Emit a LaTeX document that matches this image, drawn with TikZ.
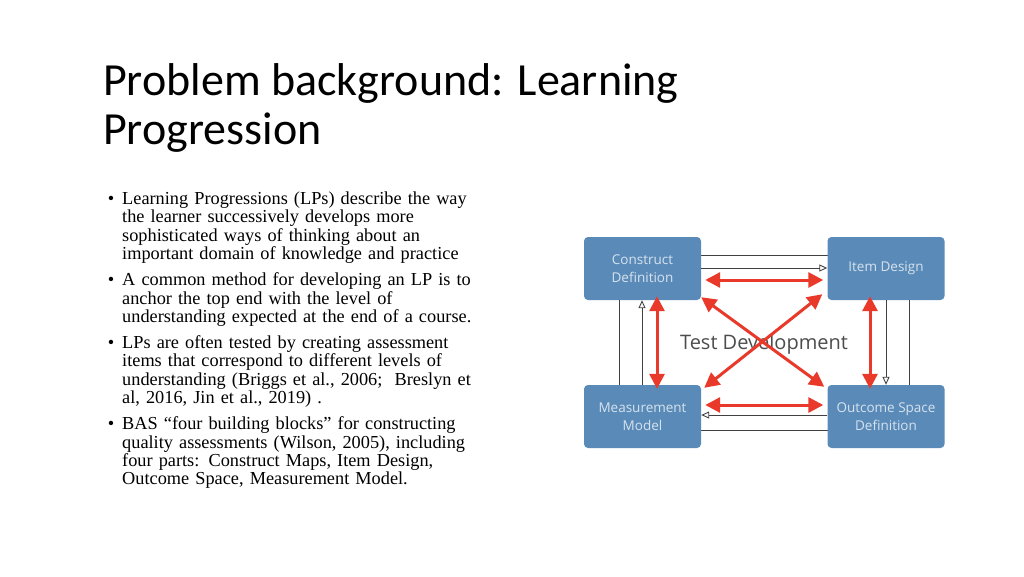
\documentclass[tikz,border=0pt]{standalone}
\usepackage{fontspec}
\setmainfont{Liberation Serif}
\newfontfamily\titlefont{Carlito}
\newfontfamily\boxfont{Open Sans}
\usetikzlibrary{arrows.meta}
\definecolor{boxblue}{HTML}{5A8BB8}
\definecolor{boxtext}{HTML}{D6E2EE}
\definecolor{redarr}{HTML}{E8392B}
\tikzset{
  blk/.style={fill=boxblue, rounded corners=4pt, minimum width=117pt, minimum height=63pt, inner sep=0pt, text=boxtext, font=\boxfont\fontsize{13.5}{18}\selectfont, align=center, draw=none},
  thin/.style={draw=black!75, line width=0.9pt},
  openarr/.style={thin, -{Triangle[open, length=8pt, width=7pt]}},
  redboth/.style={draw=redarr, line width=3pt, {Triangle[length=15pt, width=15pt]}-{Triangle[length=15pt, width=15pt]}},
}
\begin{document}
\begin{tikzpicture}[x=1pt,y=-1pt]
\useasboundingbox (0,0) rectangle (1024,576);
\node[anchor=base west, inner sep=0pt, font=\titlefont\fontsize{46}{50}\selectfont] (t1) at (103,95) {Problem background: Learning};
\node[anchor=base west, inner sep=0pt, font=\titlefont\fontsize{46}{50}\selectfont] (t2) at (103,144) {Progression};
\node[anchor=north west, text width=392pt, inner sep=0pt, font=\fontsize{18.3}{18.3}\selectfont, align=left] (body) at (100,178) {%
\setlength{\leftmargini}{22pt}\setlength{\labelsep}{8pt}\setlength{\topsep}{0pt}\setlength{\partopsep}{0pt}%
\begin{itemize}\setlength{\itemsep}{4pt}\setlength{\parsep}{0pt}\setlength{\rightmargin}{0pt}
\item Learning Progressions (LPs) describe the way the learner successively develops more sophisticated ways of thinking about an important domain of knowledge and practice
\item A common method for developing an LP is to anchor the top end with the level of understanding expected at the end of a course.
\item LPs are often tested by creating assessment items that correspond to different levels of understanding (Briggs et al., 2006;\ \ Breslyn et al, 2016, Jin et al., 2019) .
\item BAS ``four building blocks'' for constructing quality assessments (Wilson, 2005), including four parts: Construct Maps, Item Design, Outcome Space, Measurement Model.
\end{itemize}};
% outer frame lines
\coordinate (fa) at (619,255); \coordinate (fb) at (909,255);
\coordinate (fc) at (909,430); \coordinate (fd) at (619,430);
\draw[thin] (fa) -- (fb) -- (fc) -- (fd) -- cycle;
\node[font=\boxfont\fontsize{20}{24}\selectfont, text=black!70] (td) at (764,344) {Test Development};
\node[blk] (cd) at (642.5,268.5) {Construct\\Definition};
\node[blk] (id) at (886,268.5) {Item Design};
\node[blk] (mm) at (642.5,416.5) {Measurement\\Model};
\node[blk] (os) at (886,416.5) {Outcome Space\\Definition};
% inner cycle arrows
\draw[openarr] (cd.east |- 0,268) -- (id.west |- 0,268);
\draw[openarr] (id.south -| 886,0) -- (os.north -| 886,0);
\draw[openarr] (os.west |- 0,415) -- (mm.east |- 0,415);
\draw[openarr] (mm.north -| 642,0) -- (cd.south -| 642,0);
% red arrows
\draw[redboth] ([xshift=4pt]cd.east |- 0,280) -- ([xshift=-4pt]id.west |- 0,280);
\draw[redboth] ([xshift=4pt]mm.east |- 0,405) -- ([xshift=-4pt]os.west |- 0,405);
\draw[redboth] ([yshift=4pt]cd.south -| 657,0) -- ([yshift=-4pt]mm.north -| 657,0);
\draw[redboth] ([yshift=4pt]id.south -| 870,0) -- ([yshift=-4pt]os.north -| 870,0);
\draw[redboth] ([shift={(0pt,3pt)}]cd.south east) -- ([shift={(-3pt,-2pt)}]os.north west);
\draw[redboth] ([shift={(-5pt,6pt)}]id.south west) -- ([shift={(3pt,-3pt)}]mm.north east);
\end{tikzpicture}
\end{document}
